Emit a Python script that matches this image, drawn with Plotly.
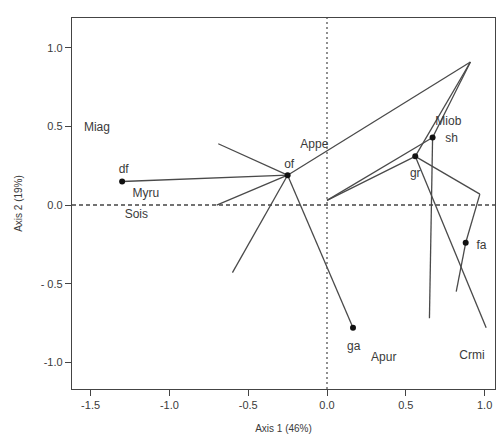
import plotly.graph_objects as go

# Group centroids (dots)
group_names = ["df", "of", "ga", "gr", "sh", "fa"]
group_x = [-1.30, -0.25, 0.165, 0.56, 0.67, 0.88]
group_y = [0.15, 0.19, -0.78, 0.31, 0.43, -0.24]

# Star segments: from group (by name) to site coordinates
seg_group = ["of", "of", "of", "of", "of", "of",
             "gr", "gr", "gr", "gr",
             "sh", "sh", "sh",
             "fa", "fa"]
seg_x = [-1.30, -0.69, -0.70, -0.60, 0.165, 0.91,
         0.0, 0.91, 0.97, 1.01,
         0.0, 0.91, 0.65,
         0.97, 0.82]
seg_y = [0.15, 0.39, 0.0, -0.43, -0.78, 0.91,
         0.03, 0.91, 0.07, -0.78,
         0.03, 0.91, -0.72,
         0.07, -0.55]

# Species labels
species = ["Miag", "Myru", "Sois", "Appe", "Miob", "Apur", "Crmi"]
species_x = [-1.46, -1.15, -1.21, -0.08, 0.77, 0.36, 0.92]
species_y = [0.49, 0.07, -0.06, 0.38, 0.53, -0.97, -0.96]

# Group label positions
glabel_x = [-1.29, -0.24, 0.17, 0.56, 0.79, 0.98]
glabel_y = [0.22, 0.255, -0.90, 0.20, 0.42, -0.26]

x_ticks = [-1.5, -1.0, -0.5, 0.0, 0.5, 1.0]
x_tick_text = ["-1.5", "-1.0", "-0.5", "0.0", "0.5", "1.0"]
y_ticks = [1.0, 0.5, 0.0, -0.5, -1.0]
y_tick_text = ["1.0", "0.5", "0.0", "- 0.5", "-1.0"]

lx, ly = [], []
for g, sx, sy in zip(seg_group, seg_x, seg_y):
    i = group_names.index(g)
    lx += [group_x[i], sx, None]
    ly += [group_y[i], sy, None]

ink = "#3a3a3a"
fig = go.Figure()
fig.add_trace(go.Scatter(x=lx, y=ly, mode="lines",
                         line=dict(color="#4a4a4a", width=1.3),
                         hoverinfo="skip", showlegend=False))
fig.add_trace(go.Scatter(x=group_x, y=group_y, mode="markers",
                         marker=dict(color="#111", size=6),
                         showlegend=False))
fig.add_trace(go.Scatter(x=glabel_x, y=glabel_y, mode="text", text=group_names,
                         textfont=dict(family="Liberation Sans, Arial", size=12, color=ink),
                         showlegend=False))
fig.add_trace(go.Scatter(x=species_x, y=species_y, mode="text", text=species,
                         textfont=dict(family="Liberation Sans, Arial", size=12, color=ink),
                         showlegend=False))

xr = [-1.618, 1.066]
yr = [-1.17, 1.19]
fig.add_shape(type="line", x0=0, x1=0, y0=yr[0], y1=yr[1], xref="x", yref="y",
              line=dict(color="#555", width=1.3, dash="2px,3px"))
fig.add_shape(type="line", x0=xr[0], x1=xr[1], y0=0, y1=0, xref="x", yref="y",
              line=dict(color="#444", width=1.4, dash="4px,3px"))

fig.update_layout(
    width=497, height=444,
    margin=dict(l=72, r=2, t=18, b=55),
    paper_bgcolor="white", plot_bgcolor="white",
    font=dict(family="Liberation Sans, Arial", size=11, color=ink),
)
fig.update_xaxes(range=xr, tickvals=x_ticks, ticktext=x_tick_text,
                 showgrid=False, zeroline=False, showline=True, mirror=True,
                 linecolor="#444", linewidth=1.3, ticks="outside", ticklen=6,
                 tickcolor="#444", tickfont=dict(size=11),
                 title=dict(text="Axis 1 (46%)", font=dict(size=10), standoff=14))
fig.update_yaxes(range=yr, tickvals=y_ticks, ticktext=y_tick_text,
                 showgrid=False, zeroline=False, showline=True, mirror=True,
                 linecolor="#444", linewidth=1.3, ticks="outside", ticklen=6,
                 tickcolor="#444", tickfont=dict(size=11),
                 title=dict(text="Axis 2 (19%)", font=dict(size=10), standoff=16))

fig.write_html("out.html")
